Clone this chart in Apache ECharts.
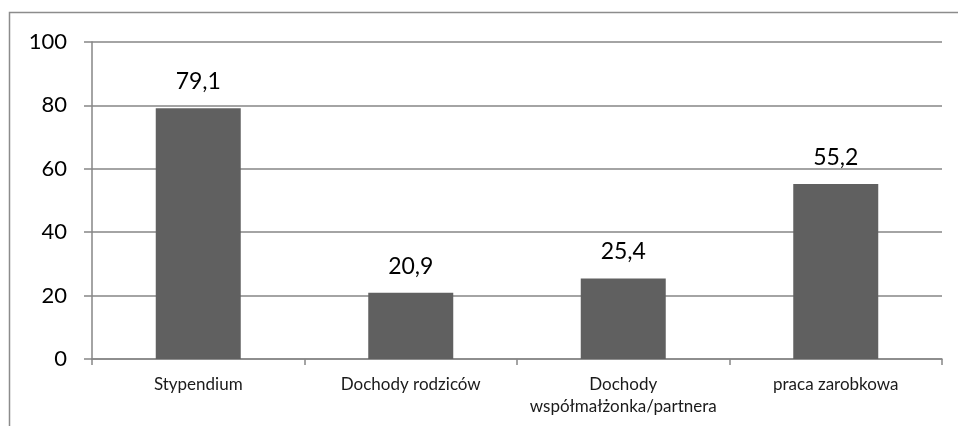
<!DOCTYPE html>
<html><head><meta charset="utf-8">
<script src="https://cdn.jsdelivr.net/npm/echarts@6/dist/echarts.min.js"></script>
<style>html,body{margin:0;padding:0;background:#fff}#c{width:958px;height:426px}</style>
</head><body><div id="c"></div>
<script>
const categories = ['Stypendium', 'Dochody rodziców', 'Dochody\nwspółmałżonka/partnera', 'praca zarobkowa'];
const values = [79.1, 20.9, 25.4, 55.2];
const yTicks = [0, 20, 40, 60, 80, 100];

const chart = echarts.init(document.getElementById('c'), null, {renderer: 'canvas'});
const gray = '#868686';
chart.setOption({
  animation: false,
  backgroundColor: '#ffffff',
  graphic: [{
    type: 'polyline',
    shape: {points: [[9.5, 430], [9.5, 12.5], [960, 12.5]]},
    style: {stroke: '#8c8c8c', lineWidth: 1.5, fill: null},
    silent: true
  }],
  grid: {left: 92, right: 16, top: 42, bottom: 67, containLabel: false},
  xAxis: {
    type: 'category',
    data: categories,
    axisLine: {show: true, lineStyle: {color: gray, width: 1.5}},
    axisTick: {show: true, alignWithLabel: false, length: 6, lineStyle: {color: gray, width: 1.5}},
    axisLabel: {color: '#1a1a1a', fontSize: 17, fontFamily: 'Lato', margin: 15, lineHeight: 22, interval: 0},
    splitLine: {show: false}
  },
  yAxis: {
    type: 'value',
    min: 0, max: 100, interval: 20,
    axisLine: {show: true, onZero: false, lineStyle: {color: gray, width: 1.5}},
    axisTick: {show: true, length: 8, lineStyle: {color: gray, width: 1.5}},
    axisLabel: {color: '#000', fontSize: 22, fontFamily: 'Lato', margin: 25,
      formatter: v => yTicks.includes(v) ? String(v) : ''},
    splitLine: {show: true, lineStyle: {color: gray, width: 1.5}}
  },
  series: [{
    type: 'bar',
    data: values,
    barWidth: '40%',
    itemStyle: {color: '#606060'},
    label: {show: true, position: 'top', distance: 15, color: '#000', fontSize: 23, fontFamily: 'Lato',
      formatter: p => String(p.value).replace('.', ',')}
  }]
});
</script></body></html>
